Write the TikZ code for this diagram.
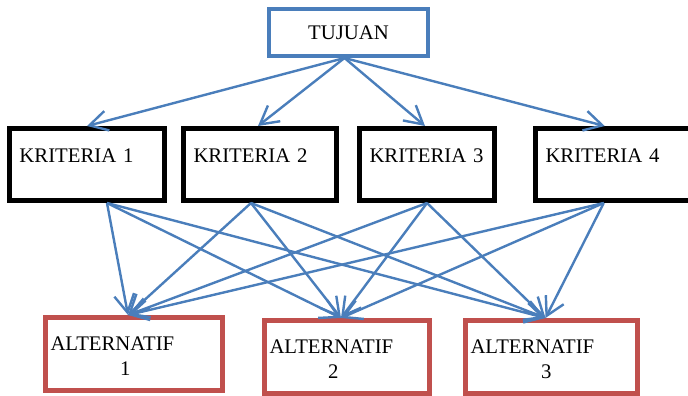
\documentclass[tikz,border=0pt]{standalone}
\usepackage{fontspec}
\setmainfont{Liberation Serif}
\usetikzlibrary{arrows.meta}
\definecolor{biru}{RGB}{74,126,187}
\definecolor{merah}{RGB}{192,80,77}
\begin{document}
\begin{tikzpicture}[x=1pt,y=-1pt,
  panah/.style={biru,line width=2.4pt,-{Straight Barb[length=18pt,width=20pt]}},
  kotak/.style={font=\fontsize{20.75pt}{25pt}\selectfont,inner ysep=0pt},
  tujuan/.style={kotak,draw=biru,line width=4pt,minimum width=159pt,minimum height=47pt},
  kriteria/.style={kotak,draw=black,line width=5pt,text width=#1,align=left,inner xsep=10pt,text height=33.5pt,text depth=38.5pt},
  alternatif/.style={kotak,draw=merah,line width=5pt,text width=#1,align=left,inner xsep=5pt,text height=32.5pt,text depth=40.5pt}]
\useasboundingbox (0,0) rectangle (688,396); % ukuran gambar
% Tujuan
\node[tujuan] (tujuan) at (348.5,32.5) {TUJUAN};
% Kriteria
\node[kriteria=135pt] (k1) at (87,164.5) {KRITERIA 1};
\node[kriteria=133pt] (k2) at (260,164.5) {KRITERIA 2};
\node[kriteria=115pt] (k3) at (427,164.5) {KRITERIA 3};
\node[kriteria=136.5pt] (k4) at (613.75,164.5) {KRITERIA 4};
% Alternatif
\node[alternatif=167pt] (a1) at (134,354) {\begin{tabular}[t]{@{}c@{}}ALTERNATIF\\\hspace*{26pt}1\end{tabular}};
\node[alternatif=155pt] (a2) at (347,357) {\begin{tabular}[t]{@{}c@{}}ALTERNATIF\\\hspace*{4pt}2\end{tabular}};
\node[alternatif=162pt] (a3) at (551.5,357) {\begin{tabular}[t]{@{}c@{}}ALTERNATIF\\\hspace*{28pt}3\end{tabular}};
% Panah tujuan -> kriteria
\foreach \k/\dx in {k1/0,k2/-2,k3/-2,k4/-9}
  \draw[panah] ([xshift=-4pt]tujuan.south) -- ([xshift=\dx pt]\k.north);
% Panah kriteria -> alternatif
\foreach \k/\dx in {k1/20,k2/-9,k3/0,k4/-10}
  \foreach \a in {a1,a2,a3}
    \draw[panah] ([xshift=\dx pt]\k.south) -- ([xshift=-6pt]\a.north);
\end{tikzpicture}
\end{document}
